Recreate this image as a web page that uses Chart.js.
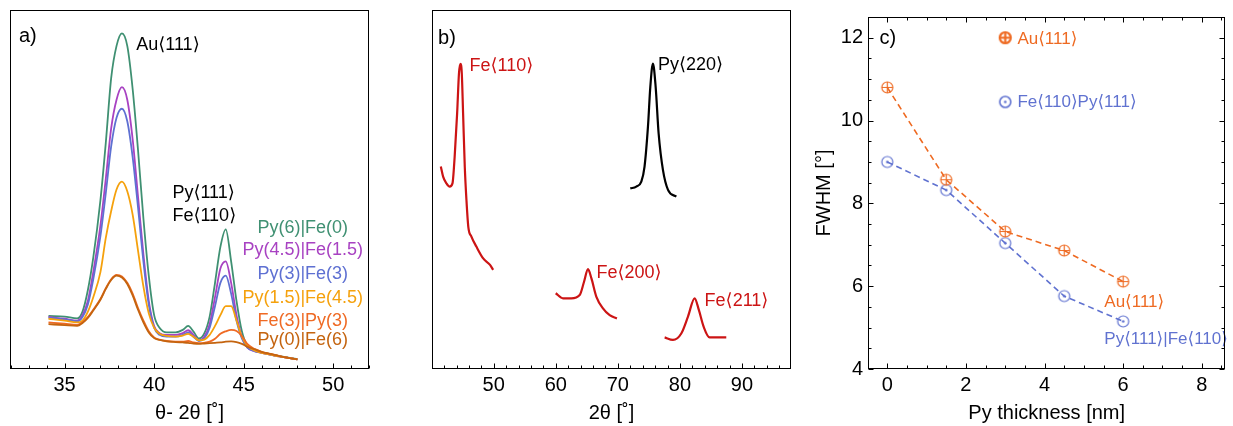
<!DOCTYPE html>
<html>
<head>
<meta charset="utf-8">
<script src="https://cdn.jsdelivr.net/npm/chart.js@4"></script>
<style>
  body { margin: 0; background: #fff; }
  canvas { position: absolute; top: 0; }
</style>
</head>
<body>
<canvas id="panelA" width="380" height="426" style="left:0px"></canvas>
<canvas id="panelB" width="400" height="426" style="left:400px"></canvas>
<canvas id="panelC" width="423" height="426" style="left:810px"></canvas>
<script>
// ---- panel a : theta-2theta scans (intensity in arbitrary units, 0..100 = frame height)
var angleA = [34.1, 35, 35.7, 36, 36.3, 36.6, 37, 37.3, 37.6, 37.9, 38.2, 38.5, 38.8, 39.1, 39.4, 39.7, 40, 40.3, 40.7, 41.2, 41.6, 41.9, 42.2, 42.5, 42.8, 43.1, 43.4, 43.7, 44, 44.3, 44.6, 44.9, 45.2, 45.6, 46, 46.5, 47, 47.5, 48];
var py6fe0   = [14.8, 14.6, 14.1, 16, 22, 31, 47, 63, 81, 90, 93.5, 90, 78, 61, 42, 26, 15, 11.5, 10.2, 10.2, 10.9, 12, 10.4, 8.5, 9.9, 14.6, 24, 34, 38.9, 30, 19, 10.5, 6.5, 5.3, 4.6, 4.0, 3.6, 3.2, 2.7];
var py45fe15 = [14.5, 14.0, 13.5, 15, 19, 27, 40, 53, 67, 75, 78.5, 75, 64, 48, 32, 19, 12, 10, 9.5, 9.5, 10, 10.8, 9.5, 8, 9, 12.5, 20, 28, 30, 24, 15, 9, 6, 5, 4.5, 4, 3.5, 3.1, 2.7];
var py3fe3   = [14.3, 13.8, 13.3, 14.5, 18, 25, 37, 49, 62, 70, 72.5, 69, 59, 45, 30, 18, 11.5, 9.5, 9, 9, 9.5, 10.2, 9, 7.8, 8.5, 11.5, 17.5, 24, 26, 21, 13.5, 8.5, 6, 5, 4.5, 4, 3.5, 3.1, 2.7];
var py15fe45 = [14, 13.5, 13, 13.5, 16, 20, 27, 36.5, 44, 50, 52.2, 49.5, 43, 33, 23, 15.5, 11.5, 9.8, 9.2, 9, 9.3, 9.8, 9, 8, 8.2, 9.5, 12, 15, 17.5, 17.5, 13.5, 9, 6.5, 5.2, 4.5, 4, 3.5, 3.1, 2.7];
var fe3py3   = [13, 12.6, 12.3, 13, 14.5, 16.5, 19.5, 22.5, 25, 26.2, 25.8, 24, 21, 17, 13.5, 10.5, 8.8, 8.2, 7.8, 7.6, 7.6, 7.8, 7.4, 7.2, 7.3, 7.6, 8.4, 9.8, 10.5, 10.9, 10.6, 9.2, 7, 5.6, 4.8, 4.2, 3.6, 3.1, 2.7];
var py0fe6   = [12.5, 12.2, 12, 12.8, 14.2, 16.3, 19.3, 22.3, 24.8, 26, 25.5, 23.7, 20.5, 16.5, 13, 10.2, 8.6, 8.1, 7.7, 7.5, 7.4, 7.3, 7.1, 7.0, 7.1, 7.2, 7.3, 7.4, 7.6, 7.7, 7.5, 7.0, 6.2, 5.5, 4.8, 4.2, 3.6, 3.1, 2.7];
var namesA  = ["Py(6)|Fe(0)", "Py(4.5)|Fe(1.5)", "Py(3)|Fe(3)", "Py(1.5)|Fe(4.5)", "Fe(3)|Py(3)", "Py(0)|Fe(6)"];
var colorsA = ["#3f9072", "#a842c2", "#5e70d2", "#f5a10c", "#ef6a24", "#c4640f"];
var ticksAX = [35, 40, 45, 50];

// ---- panel b : 2theta scan segments
var fe110X = [41.47, 41.84, 42.38, 42.9, 43.35, 43.7, 44.1, 44.4, 44.63, 44.85, 45.06, 45.33, 45.6, 45.9, 46.4, 47.2, 48.3, 49.4, 49.9];
var fe110Y = [56.4, 53.6, 51.7, 50.8, 51.7, 59.1, 71.2, 82.4, 85, 82.4, 71.2, 56.4, 47.1, 39.6, 36.9, 34.1, 30.8, 29.0, 27.6];
var fe200X = [59.98, 61.16, 62.5, 63.85, 64.55, 65.19, 65.73, 66.54, 67.6, 68.68, 69.85];
var fe200Y = [21.1, 19.7, 19.7, 20.6, 24.3, 27.8, 25.3, 20.1, 16.9, 15.0, 14.1];
var py220X = [72.0, 72.97, 73.78, 74.3, 74.85, 75.23, 75.65, 76.09, 76.57, 77.27, 78.08, 79.42];
var py220Y = [50.3, 50.8, 52.2, 56.4, 67.5, 78.6, 85.1, 78.6, 65.6, 55.4, 49.9, 48.0];
var fe211X = [77.54, 78.88, 80.22, 81.3, 82.37, 83.06, 83.82, 84.78, 86.12, 87.47];
var fe211Y = [8.8, 8.1, 9.9, 14.6, 19.7, 16.4, 11.8, 8.8, 8.8, 8.8];
var ticksBX = [50, 60, 70, 80, 90];

// ---- panel c : FWHM vs Py thickness
var thickness = [0, 1.5, 3, 4.5, 6];
var fwhmAu    = [10.8, 8.57, 7.32, 6.86, 6.11];
var fwhmFePy  = [9.0, 8.32, 7.04, 5.76, 5.15];
var ticksCX = [0, 2, 4, 6, 8];
var ticksCY = [4, 6, 8, 10, 12];

var FONT = "'Liberation Sans', 'DejaVu Sans', sans-serif";
Chart.defaults.font.family = FONT;
Chart.defaults.color = "#000";

function pts(xs, ys) {
  return xs.map(function (x, i) { return { x: x, y: ys[i] }; });
}

// frame + inward ticks
function frameTicks(xMajor, xMinor, yMajor, yMinor, mirror) {
  return {
    id: "frameTicks",
    afterDraw: function (chart) {
      var ctx = chart.ctx, a = chart.chartArea;
      var L = Math.round(a.left) + 0.5, R = Math.round(a.right) - 0.5;
      var T = Math.round(a.top) + 0.5, B = Math.round(a.bottom) - 0.5;
      ctx.save();
      ctx.strokeStyle = "#000";
      ctx.lineWidth = 1;
      ctx.strokeRect(L, T, R - L, B - T);
      function marks(scale, major, minor) {
        var out = [];
        var start = Math.ceil(scale.min / minor - 1e-9);
        for (var i = start; i * minor <= scale.max + 1e-9; i++) {
          var v = i * minor;
          var isMajor = Math.abs(v / major - Math.round(v / major)) < 1e-6;
          out.push([Math.round(scale.getPixelForValue(v)) + 0.5, isMajor ? 5 : 3]);
        }
        return out;
      }
      ctx.beginPath();
      if (xMajor) {
        marks(chart.scales.x, xMajor, xMinor).forEach(function (m) {
          ctx.moveTo(m[0], B); ctx.lineTo(m[0], B - m[1]);
          if (mirror) { ctx.moveTo(m[0], T); ctx.lineTo(m[0], T + m[1]); }
        });
      }
      if (yMajor) {
        marks(chart.scales.y, yMajor, yMinor).forEach(function (m) {
          ctx.moveTo(L, m[0]); ctx.lineTo(L + m[1], m[0]);
          if (mirror) { ctx.moveTo(R, m[0]); ctx.lineTo(R - m[1], m[0]); }
        });
      }
      ctx.stroke();
      ctx.restore();
    }
  };
}

// text labels placed in data coordinates
function textLabels(items) {
  return {
    id: "textLabels",
    afterDatasetsDraw: function (chart) {
      var ctx = chart.ctx, sx = chart.scales.x, sy = chart.scales.y;
      ctx.save();
      ctx.textBaseline = "middle";
      items.forEach(function (t) {
        ctx.font = (t.size || 18) + "px " + FONT;
        ctx.fillStyle = t.color || "#000";
        ctx.textAlign = t.align || "left";
        ctx.fillText(t.text, sx.getPixelForValue(t.x), sy.getPixelForValue(t.y));
      });
      ctx.restore();
    }
  };
}

function fixedTicks(values) {
  return function (s) { s.ticks = values.map(function (v) { return { value: v }; }); };
}

function xAxis(min, max, tickVals, title) {
  return {
    type: "linear", min: min, max: max,
    grid: { display: false, drawTicks: false },
    border: { display: false },
    afterBuildTicks: fixedTicks(tickVals),
    afterFit: function (s) { s.height = 57; },
    ticks: { font: { size: 20 }, padding: 4, autoSkip: false, maxRotation: 0 },
    title: { display: true, text: title, font: { size: 20 }, padding: { top: 0, bottom: 1 } }
  };
}

// markers for panel c
function markerCanvas(color, kind, lw) {
  var c = document.createElement("canvas");
  c.width = 15; c.height = 15;
  var g = c.getContext("2d");
  g.strokeStyle = color; g.fillStyle = color; g.lineWidth = lw;
  g.beginPath(); g.arc(7.5, 7.5, 5.5, 0, Math.PI * 2); g.stroke();
  if (kind === "plus") {
    g.beginPath();
    g.moveTo(2, 7.5); g.lineTo(13, 7.5);
    g.moveTo(7.5, 2); g.lineTo(7.5, 13);
    g.stroke();
  } else {
    g.beginPath(); g.arc(7.5, 7.5, 1.3, 0, Math.PI * 2); g.fill();
  }
  return c;
}

// ================= panel a
var dsA = [py6fe0, py45fe15, py3fe3, py15fe45, fe3py3, py0fe6].map(function (ys, i) {
  return {
    label: namesA[i], data: pts(angleA, ys), borderColor: colorsA[i],
    borderWidth: 1.8, pointRadius: 0, cubicInterpolationMode: "monotone",
    order: 5 - i
  };
});
var labelsA = [
  { text: "a)", x: 32.45, y: 92.6, size: 20 },
  { text: "Au⟨111⟩", x: 39.0, y: 90.3 },
  { text: "Py⟨111⟩", x: 41.02, y: 49.1 },
  { text: "Fe⟨110⟩", x: 41.02, y: 42.6 }
];
var legendY = [39.4, 33.0, 26.5, 19.9, 13.4, 8.1];
namesA.forEach(function (n, i) {
  labelsA.push({ text: n, x: 48.3, y: legendY[i], color: colorsA[i], align: "center" });
});

new Chart(document.getElementById("panelA"), {
  type: "line",
  data: { datasets: dsA },
  options: {
    responsive: false, animation: false,
    layout: { padding: { left: 10, top: 10, right: 11, bottom: 0 } },
    plugins: { legend: { display: false }, tooltip: { enabled: false } },
    scales: {
      x: xAxis(31.95, 52.0, ticksAX, "θ- 2θ [˚]"),
      y: { type: "linear", min: 0, max: 100, display: false }
    }
  },
  plugins: [frameTicks(5, 1, 0, 0, false), textLabels(labelsA)]
});

// ================= panel b
var red = "#cc1414";
var segB = [[fe110X, fe110Y, red], [fe200X, fe200Y, red], [py220X, py220Y, "#000"], [fe211X, fe211Y, red]];
var labelsB = [
  { text: "b)", x: 41.03, y: 92.1, size: 20 },
  { text: "Fe⟨110⟩", x: 46.1, y: 84.4, color: red },
  { text: "Py⟨220⟩", x: 76.46, y: 84.7 },
  { text: "Fe⟨200⟩", x: 66.54, y: 26.7, color: red },
  { text: "Fe⟨211⟩", x: 83.98, y: 19.0, color: red }
];
new Chart(document.getElementById("panelB"), {
  type: "line",
  data: {
    datasets: segB.map(function (s) {
      return { data: pts(s[0], s[1]), borderColor: s[2], borderWidth: 2.2, pointRadius: 0, cubicInterpolationMode: "monotone" };
    })
  },
  options: {
    responsive: false, animation: false,
    layout: { padding: { left: 32, top: 10, right: 9, bottom: 0 } },
    plugins: { legend: { display: false }, tooltip: { enabled: false } },
    scales: {
      x: xAxis(40.05, 97.9, ticksBX, "2θ [˚]"),
      y: { type: "linear", min: 0, max: 100, display: false }
    }
  },
  plugins: [frameTicks(10, 2, 0, 0, false), textLabels(labelsB)]
});

// ================= panel c
var orange = "#ee6a22", blue = "#6072d0";
var labelsC = [
  { text: "c)", x: -0.2, y: 11.98, size: 20 },
  { text: "Au⟨111⟩", x: 3.31, y: 11.96, color: orange, size: 17 },
  { text: "Fe⟨110⟩Py⟨111⟩", x: 3.31, y: 10.43, color: blue, size: 17 },
  { text: "Au⟨111⟩", x: 5.52, y: 5.6, color: orange, size: 17 },
  { text: "Py⟨111⟩|Fe⟨110⟩", x: 5.52, y: 4.71, color: blue, size: 17 }
];
new Chart(document.getElementById("panelC"), {
  type: "line",
  data: {
    datasets: [
      { data: pts(thickness, fwhmAu), borderColor: orange, borderWidth: 1.6, borderDash: [6, 4],
        pointStyle: markerCanvas(orange, "plus", 1.2), pointRadius: 6 },
      { data: pts(thickness, fwhmFePy), borderColor: blue, borderWidth: 1.6, borderDash: [6, 4],
        pointStyle: markerCanvas(blue, "dot", 1.2), pointRadius: 6 },
      { data: [{ x: 3, y: 12 }], showLine: false, pointStyle: markerCanvas(orange, "plus", 2.2), pointRadius: 6 },
      { data: [{ x: 3, y: 10.45 }], showLine: false, pointStyle: markerCanvas(blue, "dot", 1.6), pointRadius: 6 }
    ]
  },
  options: {
    responsive: false, animation: false,
    layout: { padding: { left: 0, top: 10, right: 7, bottom: 0 } },
    plugins: { legend: { display: false }, tooltip: { enabled: false } },
    scales: {
      x: xAxis(-0.49, 8.6, ticksCX, "Py thickness [nm]"),
      y: {
        type: "linear", min: 4, max: 12.5,
        grid: { display: false, drawTicks: false },
        border: { display: false },
        afterBuildTicks: fixedTicks(ticksCY),
        afterFit: function (s) { s.width = 58; },
        ticks: { font: { size: 20 }, padding: 5, autoSkip: false },
        title: { display: true, text: "FWHM [°]", font: { size: 20 }, padding: { top: 2, bottom: 0 } }
      }
    }
  },
  plugins: [frameTicks(2, 0.5, 2, 0.5, true), textLabels(labelsC)]
});
</script>
</body>
</html>
